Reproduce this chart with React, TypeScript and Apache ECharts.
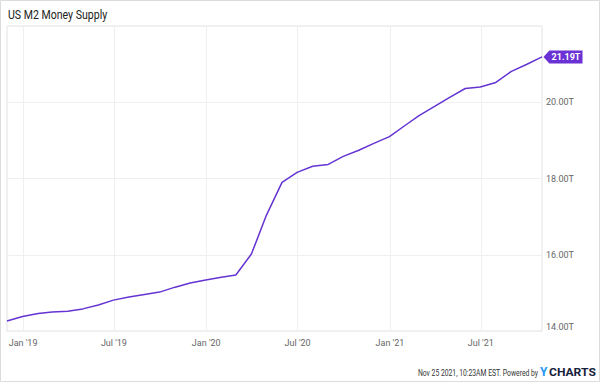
import React, { useEffect, useRef } from "react";
import * as echarts from "echarts";

const dates = [
  "2018-11-30", "2018-12-31",
  "2019-01-31", "2019-02-28", "2019-03-31", "2019-04-30", "2019-05-31", "2019-06-30",
  "2019-07-31", "2019-08-31", "2019-09-30", "2019-10-31", "2019-11-30", "2019-12-31",
  "2020-01-31", "2020-02-29", "2020-03-31", "2020-04-30", "2020-05-31", "2020-06-30",
  "2020-07-31", "2020-08-31", "2020-09-30", "2020-10-31", "2020-11-30", "2020-12-31",
  "2021-01-31", "2021-02-28", "2021-03-31", "2021-04-30", "2021-05-31", "2021-06-30",
  "2021-07-31", "2021-08-31", "2021-09-30", "2021-10-31",
];
const m2Trillions = [
  14.26, 14.38,
  14.46, 14.5, 14.52, 14.58, 14.68, 14.81, 14.89, 14.96, 15.02, 15.15, 15.26, 15.34,
  15.41, 15.47, 16.02, 17.04, 17.9, 18.16, 18.32, 18.37, 18.58, 18.74, 18.92, 19.1,
  19.39, 19.65, 19.89, 20.13, 20.36, 20.4, 20.52, 20.81, 20.99, 21.19,
];
const xTickDates = ["2019-01-01", "2019-07-01", "2020-01-01", "2020-07-01", "2021-01-01", "2021-07-01"];
const monthNames = ["Jan", "Feb", "Mar", "Apr", "May", "Jun", "Jul", "Aug", "Sep", "Oct", "Nov", "Dec"];
const yTicks = [14, 16, 18, 20, 22];

const title = "US M2 Money Supply";
const footer = "Nov 25 2021, 10:23AM EST. Powered by";

const NARROW = "'Liberation Sans Narrow', 'Roboto', sans-serif";

export default function App() {
  const ref = useRef<HTMLDivElement>(null);
  useEffect(() => {
    if (!ref.current) return;
    const chart = echarts.init(ref.current, undefined, { renderer: "svg" });
    const ts = (s: string) => new Date(s).getTime();
    const data = dates.map((d, i) => [ts(d), m2Trillions[i]]);
    const last = data[data.length - 1];
    chart.setOption({
      animation: false,
      backgroundColor: "#ffffff",
      grid: {
        left: 7,
        right: 58,
        top: 26,
        bottom: 51,
        show: true,
        borderColor: "#e2e2e2",
        borderWidth: 1,
      },
      xAxis: {
        type: "value",
        min: ts(dates[0]),
        max: ts(dates[dates.length - 1]),
        axisLine: { show: false },
        axisTick: { show: false, customValues: xTickDates.map(ts) },
        splitLine: { show: true, lineStyle: { color: "#efefef", width: 1 } },
        axisLabel: {
          customValues: xTickDates.map(ts),
          color: "#666",
          fontSize: 9,
          fontFamily: NARROW,
          margin: 7,
          formatter: (v: number) => {
            const d = new Date(v);
            return monthNames[d.getUTCMonth()] + " '" + String(d.getUTCFullYear()).slice(2);
          },
        },
      },
      yAxis: {
        type: "value",
        position: "right",
        min: yTicks[0],
        max: yTicks[yTicks.length - 1],
        interval: 2,
        axisLine: { show: false },
        axisTick: { show: false },
        splitLine: { show: true, lineStyle: { color: "#efefef", width: 1 } },
        axisLabel: {
          color: "#666",
          fontSize: 9,
          fontFamily: NARROW,
          margin: 4,
          showMaxLabel: false,
          formatter: (v: number) => (v === yTicks[0] ? "{b|" + v.toFixed(2) + "T}" : v.toFixed(2) + "T"),
          rich: { b: { color: "#666", fontSize: 9, fontFamily: NARROW, padding: [0, 0, 9, 0] } },
        },
      },
      series: [
        {
          type: "line",
          data,
          symbol: "none",
          lineStyle: { color: "#6434d2", width: 1.5 },
          markPoint: {
            silent: true,
            data: [{ coord: last, value: last[1] }],
            symbol: "path://M0,6.5L6,0L40,0L40,13L6,13Z",
            symbolSize: [39, 13],
            symbolOffset: [21, 0],
            itemStyle: { color: "#6a31d4" },
            label: {
              show: true,
              position: "inside",
              offset: [3, 0],
              color: "#ffffff",
              fontSize: 9,
              fontWeight: "bold",
              fontFamily: NARROW,
              formatter: (p: any) => Number(p.value).toFixed(2) + "T",
            },
          },
        },
      ],
      graphic: [
        {
          type: "rect",
          shape: { x: 0.5, y: 0.5, width: 599, height: 381 },
          style: { fill: "none", stroke: "#dcdcdc", lineWidth: 1 },
          silent: true,
        },
        {
          type: "text",
          x: 8,
          y: 15,
          scaleX: 0.88,
          style: {
            text: title,
            fill: "#222",
            font: "12px " + NARROW,
            verticalAlign: "middle",
          },
        },
        {
          type: "text",
          x: 538,
          y: 373,
          scaleX: 0.8,
          style: {
            text: footer,
            fill: "#333",
            font: "8.5px " + NARROW,
            align: "right",
            verticalAlign: "middle",
          },
        },
        {
          type: "text",
          x: 540,
          y: 372,
          style: {
            text: "Y",
            fill: "#2196f3",
            font: "bold 12px Roboto, sans-serif",
            align: "left",
            verticalAlign: "middle",
          },
        },
        {
          type: "text",
          x: 549,
          y: 372,
          scaleX: 1.05,
          style: {
            text: "CHARTS",
            fill: "#16213a",
            font: "bold 11.5px Roboto, sans-serif",
            align: "left",
            verticalAlign: "middle",
          },
        },
      ],
    });
    return () => chart.dispose();
  }, []);
  return (
    <div
      ref={ref}
      style={{ position: "fixed", left: 0, top: 0, width: 600, height: 382, background: "#fff" }}
    />
  );
}
